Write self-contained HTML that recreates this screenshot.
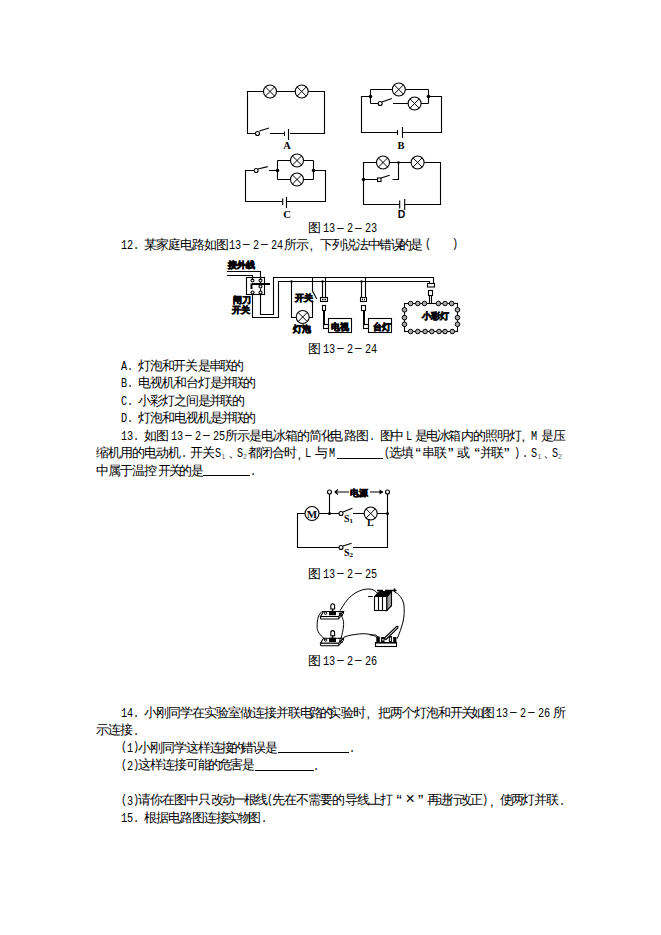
<!DOCTYPE html>
<html><head><meta charset="utf-8"><style>
html,body{margin:0;padding:0;background:#fff;width:661px;height:935px;overflow:hidden}
svg{position:absolute;left:0;top:0}
.ln{position:absolute;left:0;width:661px;height:14px}
.ln i,.ln b{position:absolute;font-style:normal;font-weight:normal;white-space:pre;color:#000;line-height:14px;top:0}
.c{font-family:"Liberation Sans",sans-serif;font-size:13px;top:-1.5px!important}
.m{font-family:"Liberation Mono",monospace;font-size:12px;transform:scaleX(0.85);transform-origin:0 0;top:-0.3px!important}
.d{font-family:"Liberation Sans",sans-serif;font-size:12px;top:-2px!important}
.q{font-family:"Liberation Sans",sans-serif;font-size:16px;font-weight:bold;top:0px!important}
.k{font-family:"Liberation Sans",sans-serif;font-size:13px;top:0px!important}
.p{font-family:"Liberation Mono",monospace;font-size:12px;transform:scaleX(0.85);transform-origin:0 0;top:-2px!important}
.x{font-family:"Liberation Sans",sans-serif;font-size:16px;top:-2.5px!important}
.s{font-family:"Liberation Sans",sans-serif;font-size:7px;color:#666!important;top:2.5px!important}
.u{height:0;border-top:1px solid #000;top:10px!important}
</style></head><body>
<svg width="661" height="935" viewBox="0 0 661 935">
<defs>
<g id="lamp"><circle r="6.5" fill="#fff" stroke="#000" stroke-width="1.1"/><path d="M-4.6,-4.6L4.6,4.6M-4.6,4.6L4.6,-4.6" stroke="#000" stroke-width="1"/></g>
</defs>
<g fill="none" stroke="#000" stroke-width="1.1">
<!-- Circuit A -->
<path d="M284.5,133.5H270M255.5,133.5H247.5V91.5H324.5V133.5H290"/>
<circle cx="257.5" cy="133.5" r="2"/>
<path d="M259.5,131L269,128"/>
<path d="M284.5,131.5V136M288.5,129V140"/>
<use href="#lamp" x="270" y="91.5"/><use href="#lamp" x="301.7" y="91.5"/>
<!-- Circuit B -->
<path d="M370.5,96.5H361.5V132.5H397.5M402.5,132.5H441.5V96.5H428.5"/>
<path d="M397.5,130V135M402.5,127V138"/>
<path d="M370.5,89.5V103.5M428.5,89.5V103.5M370.5,89.5H428.5M370.5,103.5H378.2M393,103.5H428.5"/>
<circle cx="380.2" cy="103.5" r="2"/>
<path d="M382,102L391.8,98.4"/>
<use href="#lamp" x="398.8" y="89.5"/><use href="#lamp" x="414.6" y="103.5"/>
<!-- Circuit C -->
<path d="M254,170.5H245.5V201.5H282.7M286.5,201.5H325.5V170.5H313.5"/>
<path d="M282.7,198.5V205M286.5,197V208"/>
<circle cx="256.1" cy="170.5" r="2"/>
<path d="M258,169L267.7,166.6M269,170.5H277.5"/>
<path d="M277.5,160.5V179.5M313.5,160.5V179.5M277.5,160.5H313.5M277.5,179.5H313.5"/>
<use href="#lamp" x="297" y="160.5"/><use href="#lamp" x="297" y="179.5"/>
<!-- Circuit D -->
<path d="M399.7,204.5H363.5V162.5H440.5V204.5H404.7"/>
<path d="M399.7,200.5V208.5M404.7,199V210"/>
<path d="M398.5,162.5V179.5H392.5M363.5,179.5H377.5"/>
<rect x="377.5" y="178" width="3.5" height="3.5"/>
<path d="M381,178L389.7,175.2"/>
<use href="#lamp" x="383" y="162.5"/><use href="#lamp" x="417.6" y="162.5"/>
</g>
<g fill="#000">
<circle cx="370.5" cy="96.5" r="1.8"/><circle cx="428.5" cy="96.5" r="1.8"/>
<circle cx="277.5" cy="170.5" r="1.8"/><circle cx="313.5" cy="170.5" r="1.8"/>
<circle cx="398.5" cy="162.5" r="1.3"/><circle cx="363.5" cy="179.5" r="1.8"/>
</g>
<g font-family="Liberation Serif" font-weight="bold" font-size="10.5" text-anchor="middle" fill="#000">
<text x="287" y="148.5">A</text><text x="401" y="148.5">B</text>
<text x="287" y="217.8">C</text><text x="401.5" y="217.8" font-family="Liberation Sans">D</text>
</g>

<!-- Diagram 24 -->
<g fill="none" stroke="#000" stroke-width="1.1">
<path d="M227,271.5H260.5V280M227,275.5H252.5V280"/>
<rect x="246.5" y="277.5" width="18" height="17"/>
<path d="M252.5,294.5V317.5H278.5V281.5H429.5V284M260.5,294.5V314.5H273.5V277.5H433.5V284"/>
<path d="M260.5,282V284M260.5,288.5V291" />
<circle cx="252.5" cy="280.5" r="1.5"/><circle cx="260.5" cy="280.5" r="1.5"/>
<circle cx="252.5" cy="292.5" r="1.5"/><circle cx="260.5" cy="292.5" r="1.5"/>
<circle cx="260.5" cy="286.5" r="1.5"/>
<path d="M252,284H270M251.5,283.5V289" stroke-width="2"/>
<path d="M291.5,281.5V317.5H296M309,317.5H312.5V300.5M312.5,277.5V291L316.8,299"/>
<use href="#lamp" x="302.7" y="317"/>
<path d="M322.5,281.5V297.5M325.5,277.5V297.5"/>
<rect x="320.5" y="297.5" width="7" height="4"/><path d="M322,299.5H323.5M324.5,299.5H326" stroke-width="1.5"/>
<rect x="322.5" y="305.5" width="3" height="5"/>
<path d="M324,310.5V325" stroke-width="2"/><rect x="323.5" y="324.5" width="5" height="4" fill="#fff"/>
<rect x="328.5" y="318.5" width="23" height="14"/>
<path d="M361.5,281.5V297.5M365.5,277.5V297.5"/>
<rect x="360.5" y="297.5" width="6" height="4"/><path d="M362,299.5H363M364,299.5H365" stroke-width="1.5"/>
<rect x="361.5" y="305.5" width="4" height="5"/>
<path d="M364,310.5V325" stroke-width="2"/><rect x="363.5" y="324.5" width="5" height="4" fill="#fff"/>
<rect x="368.5" y="318.5" width="23" height="14"/>
<rect x="427.5" y="283.5" width="7" height="3.5"/>
<rect x="428.5" y="290.5" width="4" height="5"/>
<path d="M429.5,296V303.5M431.5,296V303.5"/>
<rect x="404.5" y="303.5" width="53" height="28"/>
</g>
<g fill="#aaa" stroke="#000" stroke-width="1">
<circle cx="410.6" cy="303.5" r="2.3"/><circle cx="417.8" cy="303.5" r="2.3"/><circle cx="424.5" cy="303.5" r="2.3"/>
<circle cx="438.4" cy="303.5" r="2.3"/><circle cx="445" cy="303.5" r="2.3"/><circle cx="451.7" cy="303.5" r="2.3"/>
<circle cx="410.6" cy="331.5" r="2.3"/><circle cx="417.8" cy="331.5" r="2.3"/><circle cx="425.1" cy="331.5" r="2.3"/><circle cx="431.8" cy="331.5" r="2.3"/>
<circle cx="439" cy="331.5" r="2.3"/><circle cx="445" cy="331.5" r="2.3"/><circle cx="452.3" cy="331.5" r="2.3"/>
<circle cx="404.5" cy="309.8" r="2.3"/><circle cx="404.5" cy="317.6" r="2.3"/><circle cx="404.5" cy="324.3" r="2.3"/>
<circle cx="457.5" cy="309.8" r="2.3"/><circle cx="457.5" cy="317.6" r="2.3"/><circle cx="457.5" cy="324.3" r="2.3"/>
</g>
<g fill="#000"><circle cx="291.5" cy="281.5" r="1.2"/><circle cx="322.5" cy="281.5" r="1.2"/><circle cx="361.5" cy="281.5" r="1.2"/></g>
<g font-family="Liberation Sans" font-weight="bold" font-size="9" fill="#000" stroke="#000" stroke-width="0.7">
<text x="227.5" y="268.3">接外线</text>
<text x="295" y="301">开关</text>
<text x="293" y="331.7">灯泡</text>
<text x="232.5" y="303" font-size="8.5">闸刀</text>
<text x="232" y="312.5" font-size="8.5">开关</text>
<text x="331" y="329.5">电视</text>
<text x="372.5" y="329.5">台灯</text>
<text x="421.5" y="319.3">小彩灯</text>
</g>
<!-- Diagram 25 -->
<g fill="none" stroke="#000" stroke-width="1.1">
<path d="M339,547.5H297.5V513.5H305M319,513.5H339M353,513.5H364.3M377,513.5H387.5M353,547.5H387.5V494"/>
<circle cx="341" cy="547.5" r="2"/><path d="M343,546L351.6,543.2"/>
<circle cx="341" cy="513.5" r="2"/><path d="M343,512L352.4,508.3"/>
<circle cx="312" cy="513.5" r="7"/>
<use href="#lamp" x="370.7" y="513.5"/>
<path d="M329.5,513.5V494"/>
<circle cx="329.5" cy="492" r="2"/><circle cx="387.5" cy="492" r="2"/>
<path d="M335,492H349M370,492H382.5M338,489.5L335,492L338,494.5"/>
</g>
<g fill="#000"><path d="M379.5,489.5L383.5,492L379.5,494.5Z"/><circle cx="329.5" cy="513.5" r="1.5"/><circle cx="387.5" cy="513.5" r="1.5"/></g>
<g font-family="Liberation Serif" font-weight="bold" fill="#000">
<text x="312" y="517.5" font-size="11" text-anchor="middle">M</text>
<text x="344" y="521.8" font-size="10">S</text><text x="349.5" y="523" font-size="7">1</text>
<text x="367" y="526.3" font-size="10">L</text>
<text x="344" y="555.5" font-size="10">S</text><text x="349.5" y="557" font-size="7">2</text>
</g>
<g font-family="Liberation Sans" font-weight="bold" font-size="9" fill="#000" stroke="#000" stroke-width="0.5">
<text x="350" y="495.5">电源</text>
</g>

<!-- Diagram 26 -->
<g id="holder">
<path d="M323.5,611.5H343.5L338.5,616.5H320.5Z" fill="#fff" stroke="#000" stroke-width="1.1"/>
<rect x="320.5" y="616.5" width="18.5" height="2.5" rx="1" fill="#fff" stroke="#000" stroke-width="1.1"/>
<path d="M339,618.5L343.5,613.5V611.5" fill="none" stroke="#000" stroke-width="1"/>
<rect x="329" y="611" width="7" height="4.2" fill="#000"/>
<path d="M330.8,609V606Q330.8,603.8 332.6,603.8Q334.6,603.8 334.6,606V609Z" fill="#fff" stroke="#000" stroke-width="1.1"/>
<path d="M332.6,609V611" stroke="#000" stroke-width="1.5"/>
<circle cx="325.6" cy="613.2" r="1.2" fill="#fff" stroke="#000" stroke-width="1"/>
<path d="M338.5,612Q342,611.5 343,612.5Q341.5,613.5 339,613.5M339,614.5Q342,614 343,615Q341.5,616 339.5,616" fill="none" stroke="#000" stroke-width="0.9"/>
</g>
<use href="#holder" x="0" y="26.8"/>
<g fill="none" stroke="#000" stroke-width="1">
<path d="M323.2,611.3C318,613 317,620 317.1,627.7C317.5,633 322,637 325.6,639.5"/>
<path d="M339.5,613.2C343,617 344,622 343.5,626C343,631 342,635 341,638"/>
<path d="M340,610.7C343,606 347,599 351.3,595.9C356,592 362,589 369,589C373,589 376,591 378,594"/>
<path d="M343.5,637.4C347,636 350,635 355.9,634.4C361,633.5 366,633.5 370,634.4C373,635 375,636 377,637.5"/>
<path d="M394,591.4C399,594 402.5,598 403.8,604C404.6,610 404.2,617 403,622C401.5,628 399.5,633 397.2,638.6"/>
<path d="M368.1,596.5H372.7"/>
</g>
<!-- battery -->
<rect x="374.5" y="596.5" width="12.4" height="14" fill="#fff" stroke="#000" stroke-width="1.1"/>
<path d="M378.5,596.5V610.5M382.5,596.5V610.5" stroke="#000" stroke-width="1.1"/>
<path d="M386.9,596.5L391.5,591.8V605.7L386.9,610.5Z" fill="#a0a0a0" stroke="#000" stroke-width="1.1"/>
<path d="M374.5,596.5L379,591.5H391.5L386.9,596.5Z" fill="#000" stroke="#000" stroke-width="1"/>
<path d="M377,590.5H383M385,590.5H396.5M394.5,588.5V592" stroke="#000" stroke-width="1.6"/>
<!-- switch -->
<rect x="375.5" y="642.5" width="21" height="4" fill="#fff" stroke="#000" stroke-width="1.1"/>
<path d="M375.5,642.8H396.5" stroke="#000" stroke-width="1.5"/>
<g fill="#000"><rect x="376.3" y="636.5" width="3.5" height="6"/><rect x="381.1" y="637" width="3.4" height="5.5"/><rect x="388.9" y="636" width="3" height="6.5"/><rect x="393.2" y="637" width="3.2" height="5.5"/></g>
<rect x="382.3" y="639" width="1.3" height="1.5" fill="#fff"/><rect x="389.9" y="637.5" width="1" height="3.5" fill="#fff"/>
<path d="M384,638.5L396.5,626.5Q398.5,625.5 397.8,628L386,639.5Z" fill="#fff" stroke="#000" stroke-width="1.1"/>
<path d="M370,635H375.8L378,637" fill="none" stroke="#000" stroke-width="1"/>
</svg>
<div class="ln" style="top:222.5px"><i class="c" style="left:308.0px">图</i><i class="m" style="left:322.5px">1</i><i class="m" style="left:328.5px">3</i><i class="d" style="left:337.0px">–</i><i class="m" style="left:346.5px">2</i><i class="d" style="left:355.0px">–</i><i class="m" style="left:364.5px">2</i><i class="m" style="left:370.5px">3</i></div><div class="ln" style="top:239.0px"><i class="m" style="left:120.5px">1</i><i class="m" style="left:126.5px">2</i><i class="m" style="left:133.0px">.</i><i class="c" style="left:144.0px">某</i><i class="c" style="left:156.0px">家</i><i class="c" style="left:168.0px">庭</i><i class="c" style="left:180.0px">电</i><i class="c" style="left:192.0px">路</i><i class="c" style="left:204.0px">如</i><i class="c" style="left:216.0px">图</i><i class="m" style="left:228.5px">1</i><i class="m" style="left:234.5px">3</i><i class="d" style="left:243.0px">–</i><i class="m" style="left:252.5px">2</i><i class="d" style="left:261.0px">–</i><i class="m" style="left:270.5px">2</i><i class="m" style="left:276.5px">4</i><i class="c" style="left:284.0px">所</i><i class="c" style="left:296.0px">示</i><i class="k" style="left:309.5px">,</i><i class="c" style="left:320.0px">下</i><i class="c" style="left:332.0px">列</i><i class="c" style="left:344.0px">说</i><i class="c" style="left:356.0px">法</i><i class="c" style="left:367.5px">中</i><i class="c" style="left:379.3px">错</i><i class="c" style="left:391.1px">误</i><i class="c" style="left:398.5px">的</i><i class="c" style="left:410.0px">是</i><i class="p" style="left:424.5px">(</i><i class="p" style="left:452.0px">)</i></div><div class="ln" style="top:343.0px"><i class="c" style="left:308.0px">图</i><i class="m" style="left:322.5px">1</i><i class="m" style="left:328.5px">3</i><i class="d" style="left:337.0px">–</i><i class="m" style="left:346.5px">2</i><i class="d" style="left:355.0px">–</i><i class="m" style="left:364.5px">2</i><i class="m" style="left:370.5px">4</i></div><div class="ln" style="top:360.0px"><i class="m" style="left:120.5px">A</i><i class="m" style="left:127.0px">.</i><i class="c" style="left:138.0px">灯</i><i class="c" style="left:149.8px">泡</i><i class="c" style="left:161.6px">和</i><i class="c" style="left:173.4px">开</i><i class="c" style="left:185.2px">关</i><i class="c" style="left:197.5px">是</i><i class="c" style="left:208.7px">串</i><i class="c" style="left:219.9px">联</i><i class="c" style="left:231.1px">的</i></div><div class="ln" style="top:377.5px"><i class="m" style="left:120.5px">B</i><i class="m" style="left:127.0px">.</i><i class="c" style="left:138.0px">电</i><i class="c" style="left:150.0px">视</i><i class="c" style="left:162.0px">机</i><i class="c" style="left:174.0px">和</i><i class="c" style="left:186.0px">台</i><i class="c" style="left:198.0px">灯</i><i class="c" style="left:209.5px">是</i><i class="c" style="left:220.5px">并</i><i class="c" style="left:231.5px">联</i><i class="c" style="left:242.5px">的</i></div><div class="ln" style="top:395.0px"><i class="m" style="left:120.5px">C</i><i class="m" style="left:127.0px">.</i><i class="c" style="left:138.0px">小</i><i class="c" style="left:150.0px">彩</i><i class="c" style="left:162.0px">灯</i><i class="c" style="left:174.0px">之</i><i class="c" style="left:186.0px">间</i><i class="c" style="left:198.0px">是</i><i class="c" style="left:209.2px">并</i><i class="c" style="left:220.4px">联</i><i class="c" style="left:231.6px">的</i></div><div class="ln" style="top:412.5px"><i class="m" style="left:120.5px">D</i><i class="m" style="left:127.0px">.</i><i class="c" style="left:138.0px">灯</i><i class="c" style="left:150.0px">泡</i><i class="c" style="left:162.0px">和</i><i class="c" style="left:174.0px">电</i><i class="c" style="left:186.0px">视</i><i class="c" style="left:198.0px">机</i><i class="c" style="left:209.5px">是</i><i class="c" style="left:220.7px">并</i><i class="c" style="left:231.9px">联</i><i class="c" style="left:243.1px">的</i></div><div class="ln" style="top:430.0px"><i class="m" style="left:120.5px">1</i><i class="m" style="left:126.5px">3</i><i class="m" style="left:133.0px">.</i><i class="c" style="left:144.0px">如</i><i class="c" style="left:156.0px">图</i><i class="m" style="left:170.5px">1</i><i class="m" style="left:176.5px">3</i><i class="d" style="left:185.0px">–</i><i class="m" style="left:194.5px">2</i><i class="d" style="left:203.0px">–</i><i class="m" style="left:212.5px">2</i><i class="m" style="left:218.5px">5</i><i class="c" style="left:224.5px">所</i><i class="c" style="left:236.5px">示</i><i class="c" style="left:248.5px">是</i><i class="c" style="left:260.5px">电</i><i class="c" style="left:272.5px">冰</i><i class="c" style="left:284.5px">箱</i><i class="c" style="left:296.5px">的</i><i class="c" style="left:308.5px">简</i><i class="c" style="left:320.5px">化</i><i class="c" style="left:330.0px">电</i><i class="c" style="left:344.0px">路</i><i class="c" style="left:356.0px">图</i><i class="m" style="left:368.5px">.</i><i class="c" style="left:379.5px">图</i><i class="c" style="left:391.2px">中</i><i class="m" style="left:405.5px">L</i><i class="c" style="left:415.0px">是</i><i class="c" style="left:426.0px">电</i><i class="c" style="left:437.0px">冰</i><i class="c" style="left:448.0px">箱</i><i class="c" style="left:460.5px">内</i><i class="c" style="left:472.5px">的</i><i class="c" style="left:484.5px">照</i><i class="c" style="left:496.5px">明</i><i class="c" style="left:508.5px">灯</i><i class="k" style="left:521.5px">,</i><i class="m" style="left:530.5px">M</i><i class="c" style="left:540.5px">是</i><i class="c" style="left:552.5px">压</i></div><div class="ln" style="top:447.5px"><i class="c" style="left:96.0px">缩</i><i class="c" style="left:108.0px">机</i><i class="c" style="left:120.0px">用</i><i class="c" style="left:132.0px">的</i><i class="c" style="left:144.0px">电</i><i class="c" style="left:156.0px">动</i><i class="c" style="left:168.0px">机</i><i class="m" style="left:181.0px">.</i><i class="c" style="left:190.0px">开</i><i class="c" style="left:202.0px">关</i><i class="m" style="left:215.0px">S</i><i class="s" style="left:221.5px">1</i><i class="c" style="left:228.0px">、</i><i class="m" style="left:236.5px">S</i><i class="s" style="left:243.0px">2</i><i class="c" style="left:248.0px">都</i><i class="c" style="left:260.0px">闭</i><i class="c" style="left:272.0px">合</i><i class="c" style="left:284.0px">时</i><i class="k" style="left:297.5px">,</i><i class="m" style="left:305.0px">L</i><i class="c" style="left:315.0px">与</i><i class="m" style="left:328.5px">M</i><b class="u" style="left:337px;width:46px"></b><i class="p" style="left:383.5px">(</i><i class="c" style="left:389.0px">选</i><i class="c" style="left:401.0px">填</i><i class="q" style="left:415.5px">“</i><i class="c" style="left:422.0px">串</i><i class="c" style="left:434.0px">联</i><i class="q" style="left:448.0px">”</i><i class="c" style="left:457.0px">或</i><i class="q" style="left:474.5px">“</i><i class="c" style="left:480.0px">并</i><i class="c" style="left:491.2px">联</i><i class="q" style="left:504.0px">”</i><i class="p" style="left:514.1px">)</i><i class="m" style="left:521.5px">.</i><i class="m" style="left:531.0px">S</i><i class="s" style="left:537.5px">1</i><i class="c" style="left:543.0px">、</i><i class="m" style="left:552.0px">S</i><i class="s" style="left:558.0px">2</i></div><div class="ln" style="top:465.0px"><i class="c" style="left:96.0px">中</i><i class="c" style="left:108.0px">属</i><i class="c" style="left:120.0px">于</i><i class="c" style="left:132.0px">温</i><i class="c" style="left:144.0px">控</i><i class="c" style="left:158.0px">开</i><i class="c" style="left:169.0px">关</i><i class="c" style="left:179.0px">的</i><i class="c" style="left:190.5px">是</i><b class="u" style="left:202.5px;width:47.5px"></b><i class="m" style="left:250.0px">.</i></div><div class="ln" style="top:568.0px"><i class="c" style="left:308.0px">图</i><i class="m" style="left:322.5px">1</i><i class="m" style="left:328.5px">3</i><i class="d" style="left:337.0px">–</i><i class="m" style="left:346.5px">2</i><i class="d" style="left:355.0px">–</i><i class="m" style="left:364.5px">2</i><i class="m" style="left:370.5px">5</i></div><div class="ln" style="top:655.0px"><i class="c" style="left:308.0px">图</i><i class="m" style="left:322.5px">1</i><i class="m" style="left:328.5px">3</i><i class="d" style="left:337.0px">–</i><i class="m" style="left:346.5px">2</i><i class="d" style="left:355.0px">–</i><i class="m" style="left:364.5px">2</i><i class="m" style="left:370.5px">6</i></div><div class="ln" style="top:707.3px"><i class="m" style="left:120.5px">1</i><i class="m" style="left:126.5px">4</i><i class="m" style="left:133.0px">.</i><i class="c" style="left:144.0px">小</i><i class="c" style="left:156.0px">刚</i><i class="c" style="left:168.0px">同</i><i class="c" style="left:180.0px">学</i><i class="c" style="left:192.0px">在</i><i class="c" style="left:204.0px">实</i><i class="c" style="left:216.0px">验</i><i class="c" style="left:228.0px">室</i><i class="c" style="left:240.0px">做</i><i class="c" style="left:252.0px">连</i><i class="c" style="left:264.0px">接</i><i class="c" style="left:276.0px">并</i><i class="c" style="left:288.0px">联</i><i class="c" style="left:299.5px">电</i><i class="c" style="left:310.0px">路</i><i class="c" style="left:319.5px">的</i><i class="c" style="left:327.5px">实</i><i class="c" style="left:341.0px">验</i><i class="c" style="left:353.0px">时</i><i class="k" style="left:366.5px">,</i><i class="c" style="left:377.5px">把</i><i class="c" style="left:389.5px">两</i><i class="c" style="left:401.5px">个</i><i class="c" style="left:413.5px">灯</i><i class="c" style="left:425.5px">泡</i><i class="c" style="left:437.5px">和</i><i class="c" style="left:450.0px">开</i><i class="c" style="left:461.0px">关</i><i class="c" style="left:470.5px">如</i><i class="c" style="left:481.5px">图</i><i class="m" style="left:495.5px">1</i><i class="m" style="left:501.5px">3</i><i class="d" style="left:510.0px">–</i><i class="m" style="left:519.5px">2</i><i class="d" style="left:528.0px">–</i><i class="m" style="left:537.5px">2</i><i class="m" style="left:543.5px">6</i><i class="c" style="left:553.0px">所</i></div><div class="ln" style="top:724.8px"><i class="c" style="left:96.0px">示</i><i class="c" style="left:108.0px">连</i><i class="c" style="left:120.0px">接</i><i class="m" style="left:133.0px">.</i></div><div class="ln" style="top:742.3px"><i class="p" style="left:120.5px">(</i><i class="m" style="left:126.5px">1</i><i class="p" style="left:132.5px">)</i><i class="c" style="left:138.0px">小</i><i class="c" style="left:150.0px">刚</i><i class="c" style="left:162.0px">同</i><i class="c" style="left:174.0px">学</i><i class="c" style="left:186.0px">这</i><i class="c" style="left:198.0px">样</i><i class="c" style="left:210.0px">连</i><i class="c" style="left:221.0px">接</i><i class="c" style="left:231.0px">的</i><i class="c" style="left:241.0px">错</i><i class="c" style="left:253.0px">误</i><i class="c" style="left:265.0px">是</i><b class="u" style="left:278px;width:71px"></b><i class="m" style="left:348.5px">.</i></div><div class="ln" style="top:759.8px"><i class="p" style="left:120.5px">(</i><i class="m" style="left:126.5px">2</i><i class="p" style="left:132.5px">)</i><i class="c" style="left:138.0px">这</i><i class="c" style="left:150.0px">样</i><i class="c" style="left:162.0px">连</i><i class="c" style="left:174.0px">接</i><i class="c" style="left:186.0px">可</i><i class="c" style="left:198.0px">能</i><i class="c" style="left:208.0px">的</i><i class="c" style="left:219.0px">危</i><i class="c" style="left:230.0px">害</i><i class="c" style="left:242.0px">是</i><b class="u" style="left:254.5px;width:59.5px"></b><i class="m" style="left:313.0px">.</i></div><div class="ln" style="top:794.8px"><i class="p" style="left:120.5px">(</i><i class="m" style="left:126.5px">3</i><i class="p" style="left:132.5px">)</i><i class="c" style="left:138.0px">请</i><i class="c" style="left:150.0px">你</i><i class="c" style="left:162.0px">在</i><i class="c" style="left:174.0px">图</i><i class="c" style="left:186.0px">中</i><i class="c" style="left:198.0px">只</i><i class="c" style="left:210.5px">改</i><i class="c" style="left:221.7px">动</i><i class="c" style="left:232.9px">一</i><i class="c" style="left:244.1px">根</i><i class="c" style="left:255.3px">线</i><i class="p" style="left:266.5px">(</i><i class="c" style="left:272.0px">先</i><i class="c" style="left:284.0px">在</i><i class="c" style="left:296.0px">不</i><i class="c" style="left:308.0px">需</i><i class="c" style="left:320.0px">要</i><i class="c" style="left:332.0px">的</i><i class="c" style="left:344.5px">导</i><i class="c" style="left:356.5px">线</i><i class="c" style="left:368.5px">上</i><i class="c" style="left:379.5px">打</i><i class="q" style="left:396.5px">“</i><i class="x" style="left:405.5px">×</i><i class="q" style="left:418.0px">”</i><i class="c" style="left:427.0px">再</i><i class="c" style="left:437.6px">进</i><i class="c" style="left:448.3px">行</i><i class="c" style="left:458.9px">改</i><i class="c" style="left:469.6px">正</i><i class="p" style="left:481.5px">)</i><i class="k" style="left:490.0px">,</i><i class="c" style="left:499.5px">使</i><i class="c" style="left:510.5px">两</i><i class="c" style="left:522.0px">灯</i><i class="c" style="left:533.8px">并</i><i class="c" style="left:545.5px">联</i><i class="m" style="left:558.5px">.</i></div><div class="ln" style="top:812.3px"><i class="m" style="left:120.5px">1</i><i class="m" style="left:126.5px">5</i><i class="m" style="left:133.0px">.</i><i class="c" style="left:144.0px">根</i><i class="c" style="left:156.0px">据</i><i class="c" style="left:168.0px">电</i><i class="c" style="left:179.5px">路</i><i class="c" style="left:192.0px">图</i><i class="c" style="left:203.8px">连</i><i class="c" style="left:215.5px">接</i><i class="c" style="left:225.5px">实</i><i class="c" style="left:238.0px">物</i><i class="c" style="left:248.0px">图</i><i class="m" style="left:260.5px">.</i></div>
</body></html>
